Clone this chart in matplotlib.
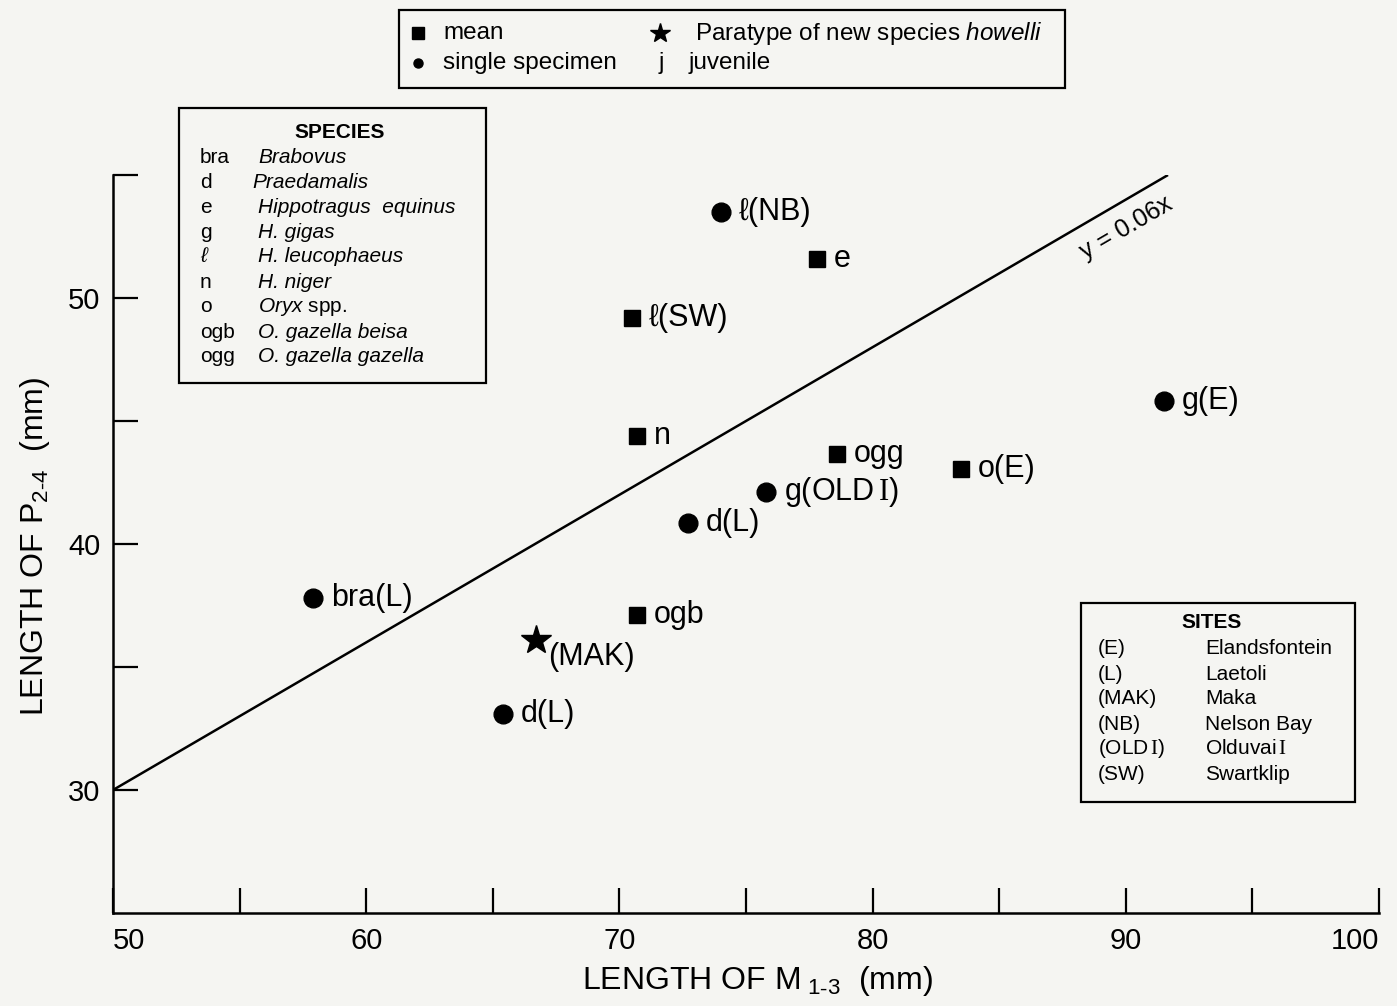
import numpy as np
import matplotlib
matplotlib.use("Agg")
import matplotlib.pyplot as plt
from matplotlib.patches import Rectangle

plt.rcParams['font.family'] = ['Liberation Sans', 'DejaVu Sans']
plt.rcParams['mathtext.fontset'] = 'custom'
plt.rcParams['mathtext.rm'] = 'Liberation Serif'
plt.rcParams['mathtext.it'] = 'Liberation Sans:italic'
plt.rcParams['mathtext.sf'] = 'Liberation Sans'
plt.rcParams['mathtext.bf'] = 'Liberation Sans:bold'

# ---------------- data ----------------
point_labels = ["bra(L)", "d(L)", "(MAK)", "ogb", "d(L)", "n", "ℓ(SW)", "ℓ(NB)",
                "e", "ogg", r"g(OLD$\,\mathrm{I}$)", "o(E)", "g(E)"]
m13_length = [57.9, 65.4, 66.7, 70.7, 72.7, 70.7, 70.5, 74.0, 77.8, 78.6, 75.8, 83.5, 91.5]
p24_length = [37.8, 33.1, 36.1, 37.1, 40.85, 44.4, 49.2, 53.5, 51.6, 43.65, 42.1, 43.05, 45.8]
point_kind = ["single", "single", "paratype", "mean", "single", "mean", "mean", "single",
              "mean", "mean", "single", "mean", "single"]

slope = 0.6
line_label = "y = 0.06x"

x_ticks = [50, 60, 70, 80, 90, 100]
x_minor = [55, 65, 75, 85, 95]
y_ticks = [30, 40, 50]
y_minor = [35, 45, 55]

species_codes = ["bra", "d", "e", "g", "ℓ", "n", "o", "ogb", "ogg"]
species_names = ["Brabovus", "Praedamalis", "Hippotragus  equinus", "H. gigas",
                 "H. leucophaeus", "H. niger", r"$\mathit{Oryx}$ spp.",
                 "O. gazella beisa", "O. gazella gazella"]
site_codes = ["(E)", "(L)", "(MAK)", "(NB)", r"(OLD$\,\mathrm{I}$)", "(SW)"]
site_names = ["Elandsfontein", "Laetoli", "Maka", "Nelson Bay",
              r"Olduvai$\,\mathrm{I}$", "Swartklip"]

# ---------------- figure ----------------
W, H = 1397, 1006
bg = '#f5f5f2'
fig = plt.figure(figsize=(W / 100, H / 100), dpi=100, facecolor=bg)

l, r, b, t = 113, 1379, 913, 175
ax = fig.add_axes([l / W, 1 - b / H, (r - l) / W, (b - t) / H])
ax.set_facecolor('none')
ax.set_xlim(50, 100)
ax.set_ylim(25, 55)
for s in ['top', 'right']:
    ax.spines[s].set_visible(False)
for s in ['left', 'bottom']:
    ax.spines[s].set_linewidth(1.8)

ax.set_xticks(x_ticks)
ax.set_xticks(x_minor, minor=True)
ax.set_yticks(y_ticks)
ax.set_yticks(y_minor, minor=True)
ax.tick_params(which='both', direction='in', length=18, width=1.6, colors='black')
ax.tick_params(axis='x', which='major', labelsize=21, pad=10)
ax.tick_params(axis='y', which='major', labelsize=21, pad=9)
xl = ax.get_xticklabels()
xl[0].set_ha('left')
xl[-1].set_ha('right')

# regression line
line_x = np.array([50, 55 / slope])
ax.plot(line_x, slope * line_x, color='black', lw=1.8, solid_capstyle='butt', zorder=2)
p1 = ax.transData.transform((50, 50 * slope))
p2 = ax.transData.transform((90, 90 * slope))
ang = np.degrees(np.arctan2(p2[1] - p1[1], p2[0] - p1[0]))
ax.text(90.0, 52.85, line_label, rotation=ang, ha='center', va='center',
        fontsize=18, rotation_mode='anchor')

# points
style = {"single": dict(marker='o', ms=13.5),
         "mean": dict(marker='s', ms=11),
         "paratype": dict(marker='*', ms=22)}
for lab, xv, yv, k in zip(point_labels, m13_length, p24_length, point_kind):
    ax.plot([xv], [yv], ls='none', color='black', mec='black', zorder=3, **style[k])
    if k == "paratype":
        ax.annotate(lab, (xv, yv), xytext=(9, -12), textcoords='offset points',
                    ha='left', va='center', fontsize=22)
    else:
        off = 13 if k == "single" else 12
        ax.annotate(lab, (xv, yv), xytext=(off, 0), textcoords='offset points',
                    ha='left', va='center', fontsize=22)

# axis labels
fig.text(757 / W, 1 - 981 / H, r"LENGTH OF M$_{\mathsf{\ 1‑3}}$  (mm)", ha='center',
         va='center', fontsize=23)
fig.text(35 / W, 1 - 546 / H, r"LENGTH OF P$_{\mathsf{2‑4}}$  (mm)", ha='center',
         va='center', fontsize=23, rotation=90)

# ---------------- overlay for boxes (pixel coordinates) ----------------
ov = fig.add_axes([0, 0, 1, 1], zorder=5)
ov.set_xlim(0, W)
ov.set_ylim(H, 0)
ov.axis('off')
ov.patch.set_alpha(0)


def box(x0, y0, x1, y1):
    ov.add_patch(Rectangle((x0, y0), x1 - x0, y1 - y0, facecolor=bg,
                           edgecolor='black', lw=1.6))


# top legend
lfs = 17.5
box(399, 10, 1065, 88)
ov.plot([418], [33], marker='s', ms=8, color='black', ls='none')
ov.text(443, 33, "mean", fontsize=lfs, va='center', ha='left')
ov.plot([660], [33], marker='*', ms=15, color='black', ls='none')
ov.text(695, 33, r"Paratype of new species $\mathit{howelli}$", fontsize=lfs,
        va='center', ha='left')
ov.plot([418], [63], marker='o', ms=6.5, color='black', ls='none')
ov.text(443, 63, "single specimen", fontsize=lfs, va='center', ha='left')
ov.text(661, 63, "j", fontsize=lfs, va='center', ha='center')
ov.text(689, 63, "juvenile", fontsize=lfs, va='center', ha='left')

# species box
sfs = 15
box(179, 108, 486, 383)
ov.text(340, 132, "SPECIES", fontsize=sfs, fontweight='bold', ha='center', va='center')
for i, (c, n) in enumerate(zip(species_codes, species_names)):
    yy = 157 + 25 * i
    ov.text(200, yy, c, fontsize=sfs, ha='left', va='center',
            style='italic' if c == "ℓ" else 'normal')
    xx = 252 if c == "d" else 258
    ov.text(xx, yy, n, fontsize=sfs, ha='left', va='center',
            style='normal' if '$' in n else 'italic')

# sites box
box(1081, 603, 1355, 802)
ov.text(1212, 623, "SITES", fontsize=sfs, fontweight='bold', ha='center', va='center')
for i, (c, n) in enumerate(zip(site_codes, site_names)):
    yy = 649 + 25 * i
    ov.text(1098, yy, c, fontsize=sfs, ha='left', va='center')
    ov.text(1205, yy, n, fontsize=sfs, ha='left', va='center')

fig.savefig("out.png", dpi=100, facecolor=bg)
